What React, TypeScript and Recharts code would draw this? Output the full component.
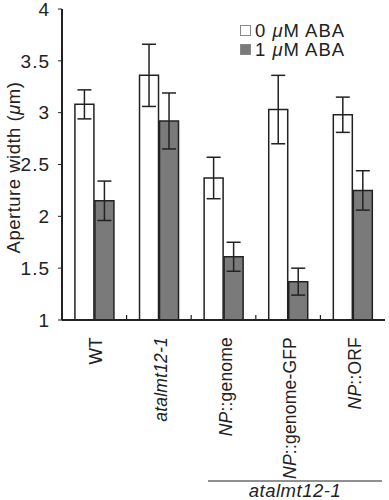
import { BarChart, Bar, XAxis, YAxis, ErrorBar, Legend, Label } from "recharts";

const genotypes = ["WT", "atalmt12-1", "NP::genome", "NP::genome-GFP", "NP::ORF"];
const aba0 = [3.08, 3.36, 2.37, 3.03, 2.98];
const aba0Err = [0.14, 0.3, 0.2, 0.33, 0.17];
const aba1 = [2.15, 2.92, 1.61, 1.37, 2.25];
const aba1Err = [0.19, 0.27, 0.14, 0.13, 0.19];
const yTicks = [1, 1.5, 2, 2.5, 3, 3.5, 4];

const data = genotypes.map((g, i) => ({
    name: g,
    aba0: aba0[i],
    aba0Err: aba0Err[i],
    aba1: aba1[i],
    aba1Err: aba1Err[i]
}));

const FONT = "'Liberation Sans', Arial, Helvetica, sans-serif";
const INK = "#222";

function GenotypeTick(props: any) {
    const { x, y, payload, index } = props;
    const label: string = payload.value;
    const half = payload.offset || 32;
    let parts;
    if (label.startsWith("NP::")) {
        parts = (
            <>
                <tspan fontStyle="italic">NP</tspan>
                <tspan>{label.slice(2)}</tspan>
            </>
        );
    } else if (label.startsWith("atalmt")) {
        parts = <tspan fontStyle="italic">{label}</tspan>;
    } else {
        parts = <tspan>{label}</tspan>;
    }
    return (
        <g>
            {index < genotypes.length - 1 && (
                <line x1={x + half} x2={x + half} y1={320} y2={315} stroke={INK} strokeWidth={1.2} />
            )}
            <text
                transform={`translate(${x + 2},${y + 11}) rotate(-90)`}
                textAnchor="end"
                dy="0.35em"
                fontSize={17.5}
                fontFamily={FONT}
                letterSpacing={0.2}
                fill={INK}
            >
                {parts}
            </text>
        </g>
    );
}

function AbaLegend(props: any) {
    const { payload } = props;
    return (
        <div style={{ fontFamily: FONT, fontSize: 18.5, color: INK, letterSpacing: 1, lineHeight: "19px" }}>
            {payload.map((p: any) => (
                <div key={p.value} style={{ display: "flex", alignItems: "center" }}>
                    <span
                        style={{
                            display: "inline-block",
                            width: 9,
                            height: 9,
                            background: p.payload.fill,
                            border: "1px solid #888",
                            marginRight: 4
                        }}
                    />
                    <span>
                        {p.value.split(" ")[0]} <i>μ</i>M ABA
                    </span>
                </div>
            ))}
        </div>
    );
}

function YTitle(props: any) {
    const { viewBox } = props;
    const cy = viewBox.y + viewBox.height / 2 + 3;
    return (
        <text
            transform={`translate(14,${cy}) rotate(-90)`}
            textAnchor="middle"
            dy="0.35em"
            fontSize={18.5}
            fontFamily={FONT}
            letterSpacing={0.5}
            fill={INK}
        >
            Aperture width (<tspan fontStyle="italic">μ</tspan>m)
        </text>
    );
}

export default function App() {
    return (
        <div style={{ position: "absolute", left: 0, top: 0, width: 389, height: 500, background: "#fff" }}>
            <BarChart
                width={389}
                height={500}
                data={data}
                margin={{ top: 9, right: 4, left: 0, bottom: 0 }}
                barCategoryGap="20%"
                barGap={1}
            >
                <XAxis
                    dataKey="name"
                    height={180}
                    interval={0}
                    tickLine={false}
                    tickMargin={0}
                    axisLine={{ stroke: INK, strokeWidth: 2 }}
                    tick={<GenotypeTick />}
                />
                <XAxis xAxisId="top" dataKey="name" orientation="top" height={0} tick={false} tickLine={false} axisLine={{ stroke: "#666", strokeWidth: 1 }} />
                <YAxis
                    domain={[1, 4]}
                    ticks={yTicks}
                    width={62}
                    interval={0}
                    tickSize={4}
                    tickMargin={8}
                    tickLine={{ stroke: INK }}
                    axisLine={{ stroke: INK, strokeWidth: 2 }}
                    tick={{ fontSize: 19, fontFamily: FONT, fill: INK, letterSpacing: 1 }}
                >
                    <Label content={<YTitle />} />
                </YAxis>
                <YAxis yAxisId="right" orientation="right" width={0} domain={[1, 4]} tick={false} tickLine={false} axisLine={{ stroke: "#666", strokeWidth: 1 }} />
                <Legend
                    layout="horizontal"
                    verticalAlign="middle"
                    content={<AbaLegend />}
                    wrapperStyle={{ position: "absolute", top: 21, left: 240, width: 145 }}
                />
                <Bar dataKey="aba0" name="0 μM ABA" fill="#ffffff" stroke={INK} strokeWidth={1.5} isAnimationActive={false}>
                    <ErrorBar dataKey="aba0Err" width={7} stroke={INK} strokeWidth={1.5} />
                </Bar>
                <Bar dataKey="aba1" name="1 μM ABA" fill="#7a7a7a" stroke={INK} strokeWidth={1.5} isAnimationActive={false}>
                    <ErrorBar dataKey="aba1Err" width={7} stroke={INK} strokeWidth={1.5} />
                </Bar>
            </BarChart>
            <svg width={389} height={500} style={{ position: "absolute", left: 0, top: 0, pointerEvents: "none" }}>
                <line x1={208} x2={382} y1={481} y2={481} stroke={INK} strokeWidth={1.2} />
                <text x={295} y={497} textAnchor="middle" fontSize={18.5} fontStyle="italic" fontFamily={FONT} letterSpacing={0.5} fill={INK}>
                    atalmt12-1
                </text>
            </svg>
        </div>
    );
}
